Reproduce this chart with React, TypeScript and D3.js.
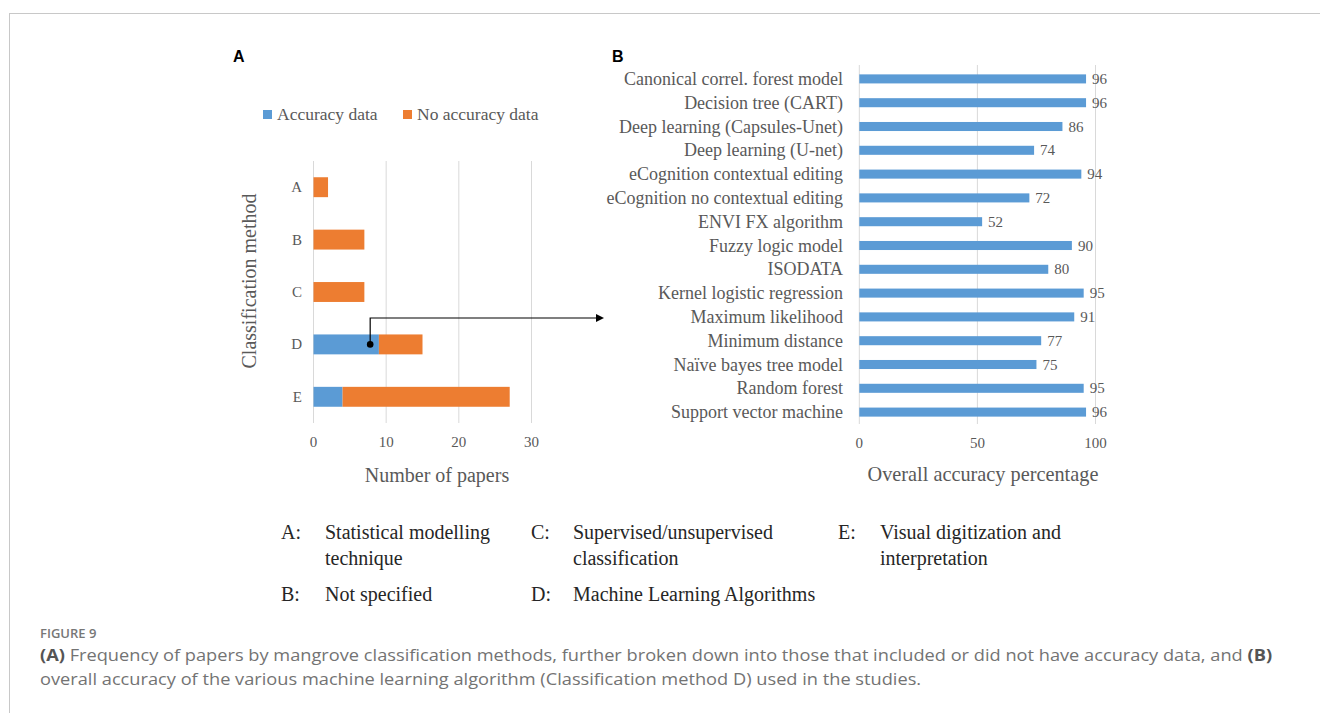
import React, { useLayoutEffect, useRef, useState } from "react";
import * as d3 from "d3";

// ---------- Data ----------
const methodCats = ["A", "B", "C", "D", "E"];
const withAccuracy = [0, 0, 0, 9, 4];
const withoutAccuracy = [2, 7, 7, 6, 23];
const xTicksA = [0, 10, 20, 30];

const algorithms = [
  "Canonical correl. forest model",
  "Decision tree (CART)",
  "Deep learning (Capsules-Unet)",
  "Deep learning (U-net)",
  "eCognition contextual editing",
  "eCognition no contextual editing",
  "ENVI FX algorithm",
  "Fuzzy logic model",
  "ISODATA",
  "Kernel logistic regression",
  "Maximum likelihood",
  "Minimum distance",
  "Naïve bayes tree model",
  "Random forest",
  "Support vector machine",
];
const accuracyPct = [96, 96, 86, 74, 94, 72, 52, 90, 80, 95, 91, 77, 75, 95, 96];
const xTicksB = [0, 50, 100];

const keyLetters = ["A:", "B:", "C:", "D:", "E:"];
const keyTexts = [
  ["Statistical modelling", "technique"],
  ["Not specified"],
  ["Supervised/unsupervised", "classification"],
  ["Machine Learning Algorithms"],
  ["Visual digitization and", "interpretation"],
];

const captionLine1 =
  " Frequency of papers by mangrove classification methods, further broken down into those that included or did not have accuracy data, and ";
const captionLine2 =
  "overall accuracy of the various machine learning algorithm (Classification method D) used in the studies.";

const BLUE = "#5B9BD5";
const ORANGE = "#ED7D31";
const GRID = "#d9d9d9";
const TXT = "#595959";
const SERIF = "'Liberation Serif', 'Times New Roman', serif";
const SANS = "'Liberation Sans', Arial, sans-serif";
const CAP = "'Open Sans', 'Noto Sans', sans-serif";

export default function App() {
  const W = 1320;
  const H = 713;

  // Panel A scales
  const xA = d3.scaleLinear().domain([0, 30]).range([313.5, 531.5]);
  const yA = d3
    .scaleBand<string>()
    .domain(methodCats)
    .range([161, 423])
    .paddingInner(0.62)
    .paddingOuter(0.31);
  const rowsA = methodCats.map((c, i) => ({ cat: c, acc: withAccuracy[i], no: withoutAccuracy[i] }));
  const stackA = d3.stack<any>().keys(["acc", "no"])(rowsA);
  const colorsA = [BLUE, ORANGE];

  // Panel B scales
  const xB = d3.scaleLinear().domain([0, 100]).range([859.3, 1095.5]);
  const yB = d3
    .scaleBand<string>()
    .domain(algorithms)
    .range([67, 424])
    .paddingInner(0.62)
    .paddingOuter(0.31);

  // Arrow anchored on D bar
  const dotX = xA(7.8);
  const dotY = (yA("D") as number) + yA.bandwidth() / 2;
  const arrowY = 318;
  const arrowEnd = 604;

  // caption fitting
  const line1Ref = useRef<SVGTextElement>(null);
  const [kx, setKx] = useState(1);
  useLayoutEffect(() => {
    if (line1Ref.current) {
      const w = line1Ref.current.getComputedTextLength();
      if (w > 0) setKx(1233 / w);
    }
  }, []);

  const keyPos = [
    { x: 281, tx: 325, y: 539 },
    { x: 281, tx: 325, y: 601 },
    { x: 531, tx: 573, y: 539 },
    { x: 531, tx: 573, y: 601 },
    { x: 838, tx: 880, y: 539 },
  ];

  return (
    <svg
      width={W}
      height={H}
      style={{ position: "absolute", left: 0, top: 0, background: "#fff" }}
    >
      {/* frame */}
      <line x1={9} y1={13.5} x2={W} y2={13.5} stroke="#c8c8c8" strokeWidth={1} />
      <line x1={9.5} y1={13} x2={9.5} y2={H} stroke="#c8c8c8" strokeWidth={1} />

      {/* Panel labels */}
      <text x={233} y={62} fontFamily={SANS} fontWeight="bold" fontSize={16} fill="#000">A</text>
      <text x={612} y={62} fontFamily={SANS} fontWeight="bold" fontSize={16} fill="#000">B</text>

      {/* ---------- Panel A ---------- */}
      {/* legend */}
      <rect x={263} y={110} width={9} height={9} fill={BLUE} />
      <text x={277} y={120} fontFamily={SERIF} fontSize={17.5} fill={TXT}>Accuracy data</text>
      <rect x={403} y={110} width={9} height={9} fill={ORANGE} />
      <text x={417} y={120} fontFamily={SERIF} fontSize={17.5} fill={TXT}>No accuracy data</text>

      {/* grid */}
      {xTicksA.map((t) => (
        <line key={t} x1={xA(t)} x2={xA(t)} y1={161} y2={423} stroke={GRID} strokeWidth={1} />
      ))}
      {/* bars */}
      {stackA.map((s, si) =>
        s.map((d, i) =>
          d[1] - d[0] > 0 ? (
            <rect
              key={si + "-" + i}
              x={xA(d[0])}
              y={yA(methodCats[i])}
              width={xA(d[1]) - xA(d[0])}
              height={yA.bandwidth()}
              fill={colorsA[si]}
            />
          ) : null
        )
      )}
      {/* category labels */}
      {methodCats.map((c) => (
        <text
          key={c}
          x={302}
          y={(yA(c) as number) + yA.bandwidth() / 2 + 5}
          textAnchor="end"
          fontFamily={SERIF}
          fontSize={15}
          fill={TXT}
        >
          {c}
        </text>
      ))}
      {/* x ticks */}
      {xTicksA.map((t) => (
        <text key={t} x={xA(t)} y={447} textAnchor="middle" fontFamily={SERIF} fontSize={15} fill={TXT}>
          {t}
        </text>
      ))}
      <text x={437} y={482} textAnchor="middle" fontFamily={SERIF} fontSize={20} fill={TXT}>
        Number of papers
      </text>
      <text
        transform="translate(256,281) rotate(-90)"
        textAnchor="middle"
        fontFamily={SERIF}
        fontSize={20}
        fill={TXT}
      >
        Classification method
      </text>

      {/* arrow */}
      <path
        d={`M${dotX},${dotY} V${arrowY} H${arrowEnd - 7}`}
        fill="none"
        stroke="#000"
        strokeWidth={1.2}
      />
      <polygon
        points={`${arrowEnd},${arrowY} ${arrowEnd - 8},${arrowY - 4} ${arrowEnd - 8},${arrowY + 4}`}
        fill="#000"
      />
      <circle cx={dotX} cy={dotY} r={3.3} fill="#000" />

      {/* ---------- Panel B ---------- */}
      {xTicksB.map((t) => (
        <line key={t} x1={xB(t)} x2={xB(t)} y1={65} y2={424} stroke={GRID} strokeWidth={1} />
      ))}
      {algorithms.map((a, i) => {
        const y0 = yB(a) as number;
        const cy = y0 + yB.bandwidth() / 2;
        return (
          <g key={a}>
            <rect x={xB(0)} y={y0} width={xB(accuracyPct[i]) - xB(0)} height={yB.bandwidth()} fill={BLUE} />
            <text x={843} y={cy + 6} textAnchor="end" fontFamily={SERIF} fontSize={18} fill={TXT}>
              {a}
            </text>
            <text x={xB(accuracyPct[i]) + 6} y={cy + 5} fontFamily={SERIF} fontSize={15} fill={TXT}>
              {accuracyPct[i]}
            </text>
          </g>
        );
      })}
      {xTicksB.map((t) => (
        <text key={t} x={xB(t)} y={448} textAnchor="middle" fontFamily={SERIF} fontSize={15} fill={TXT}>
          {t}
        </text>
      ))}
      <text x={983} y={481} textAnchor="middle" fontFamily={SERIF} fontSize={20.3} fill={TXT}>
        Overall accuracy percentage
      </text>

      {/* ---------- Key ---------- */}
      {keyLetters.map((l, i) => (
        <g key={l} fontFamily={SERIF} fontSize={20} fill="#262626">
          <text x={keyPos[i].x} y={keyPos[i].y}>{l}</text>
          {keyTexts[i].map((t, j) => (
            <text key={j} x={keyPos[i].tx} y={keyPos[i].y + j * 26}>
              {t}
            </text>
          ))}
        </g>
      ))}

      {/* ---------- Caption ---------- */}
      <text x={40} y={638} fontFamily={CAP} fontWeight={600} fontSize={13} fill="#777">
        FIGURE 9
      </text>
      <g transform={`translate(40,0) scale(${kx},1)`}>
        <text ref={line1Ref} x={0} y={661} fontFamily={CAP} fontSize={15.5} fill="#737373">
          <tspan fontWeight="bold" fill="#555">(A)</tspan>
          <tspan>{captionLine1}</tspan>
          <tspan fontWeight="bold" fill="#555">(B)</tspan>
        </text>
        <text x={0} y={685} fontFamily={CAP} fontSize={15.5} fill="#737373">
          {captionLine2}
        </text>
      </g>
    </svg>
  );
}
